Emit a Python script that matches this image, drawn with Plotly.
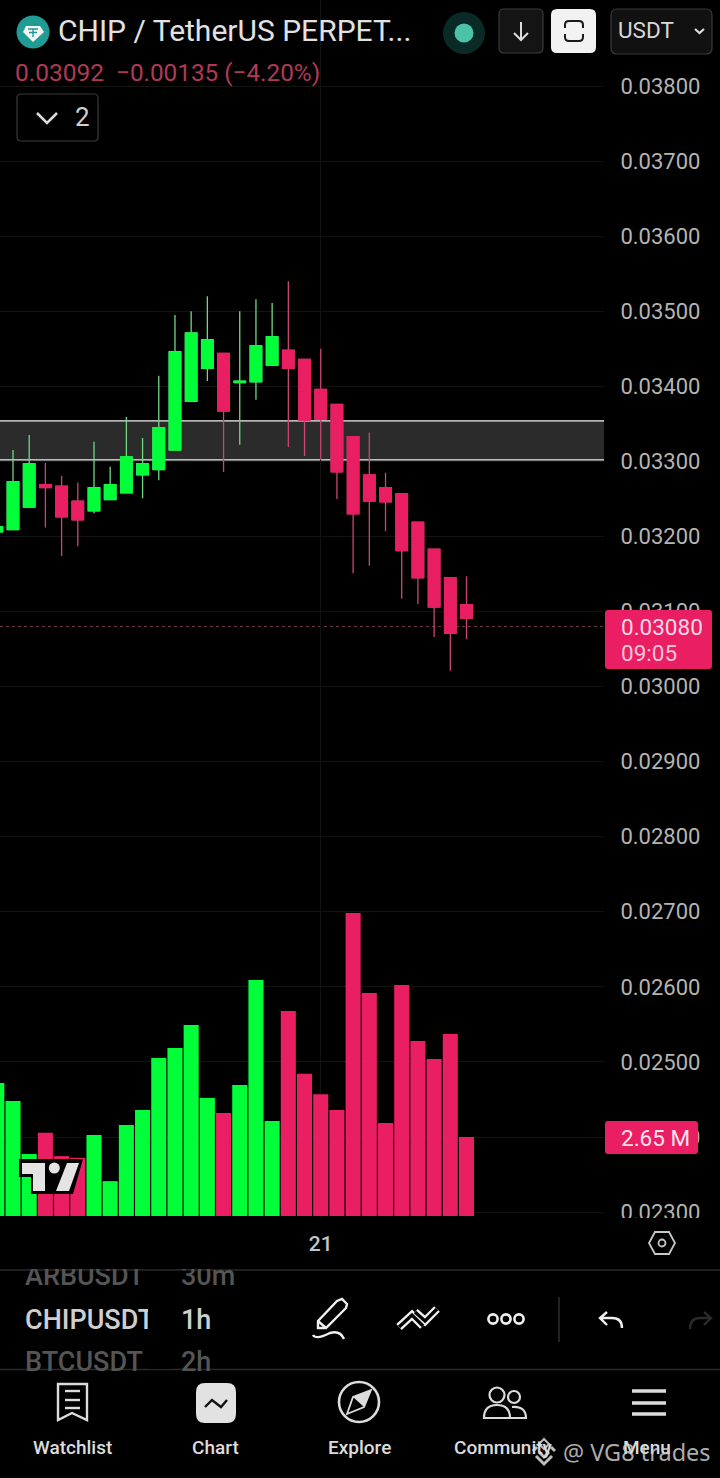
import re
import plotly.graph_objects as go

W, H = 720, 1478
PLOT_R, PLOT_B = 604, 1218

GREEN = "#00FF38"
RED = "#E91E63"
TICK = "#B4B4B4"
LIGHT = "#DCDCDC"

# hourly candles, price
bar_index = list(range(30))
opens = [0.03206, 0.03209, 0.03239, 0.03269, 0.03267, 0.03247, 0.03234, 0.03249, 0.03258, 0.03282,
         0.03289, 0.03315, 0.03380, 0.03424, 0.03444, 0.03405, 0.03406, 0.03428, 0.03448, 0.03436,
         0.03396, 0.03376, 0.03333, 0.03282, 0.03265, 0.03257, 0.03219, 0.03183, 0.03145, 0.03109]
highs = [0.03213, 0.03315, 0.03335, 0.03298, 0.03281, 0.03272, 0.03326, 0.03293, 0.03359, 0.03331,
         0.03414, 0.03495, 0.03500, 0.03520, 0.03444, 0.03500, 0.03516, 0.03511, 0.03540, 0.03436,
         0.03450, 0.03376, 0.03333, 0.03338, 0.03285, 0.03257, 0.03219, 0.03183, 0.03145, 0.03147]
lows = [0.03206, 0.03209, 0.03239, 0.03212, 0.03174, 0.03187, 0.03231, 0.03249, 0.03258, 0.03251,
        0.03275, 0.03315, 0.03380, 0.03407, 0.03286, 0.03322, 0.03382, 0.03428, 0.03319, 0.03307,
        0.03302, 0.03250, 0.03151, 0.03161, 0.03207, 0.03117, 0.03110, 0.03066, 0.03021, 0.03063]
closes = [0.03213, 0.03273, 0.03297, 0.03265, 0.03226, 0.03222, 0.03265, 0.03269, 0.03306, 0.03297,
          0.03345, 0.03446, 0.03471, 0.03462, 0.03367, 0.03407, 0.03454, 0.03466, 0.03424, 0.03355,
          0.03356, 0.03286, 0.03230, 0.03247, 0.03246, 0.03181, 0.03145, 0.03106, 0.03071, 0.03091]
volumes = [4.46, 3.86, 2.08, 2.79, 2.01, 1.95, 2.72, 1.17, 3.05, 3.56,
           5.30, 5.64, 6.41, 3.96, 3.46, 4.40, 7.92, 3.19, 6.88, 4.77,
           4.09, 3.56, 10.17, 7.48, 3.12, 7.75, 5.87, 5.27, 6.11, 2.65]

price_ticks = [0.038, 0.037, 0.036, 0.035, 0.034, 0.033, 0.032, 0.031, 0.030,
               0.029, 0.028, 0.027, 0.026, 0.025, 0.024, 0.023]
day_tick = [20]
day_label = ["21"]
zone_top, zone_bottom = 0.03354, 0.03302
last_price = 0.03080


def px(x):
    return x / W


def py(y):
    return 1 - y / H


def path(d):
    # pixel path -> paper path
    out, is_x = [], True
    for tok in d.split():
        if re.fullmatch(r"[A-Za-z]", tok):
            out.append(tok)
            is_x = True
        else:
            out.append(f"{px(float(tok)):.5f}" if is_x else f"{py(float(tok)):.5f}")
            is_x = not is_x
    return " ".join(out)


shapes = []
notes = []


def stroke(d, color=LIGHT, width=2.5, fill=None):
    shapes.append(dict(type="path", path=path(d), xref="paper", yref="paper", layer="above",
                       line=dict(color=color, width=width), fillcolor=fill))


def rrect(x0, y0, x1, y1, r, fill, line=None):
    d = (f"M {x0+r} {y0} L {x1-r} {y0} Q {x1} {y0} {x1} {y0+r} L {x1} {y1-r} Q {x1} {y1} {x1-r} {y1} "
         f"L {x0+r} {y1} Q {x0} {y1} {x0} {y1-r} L {x0} {y0+r} Q {x0} {y0} {x0+r} {y0} Z")
    stroke(d, color=line or fill, width=1.2 if line else 0, fill=fill)


def circle(cx, cy, r, fill="rgba(0,0,0,0)", line=None, width=2.5):
    shapes.append(dict(type="circle", xref="paper", yref="paper", layer="above",
                       x0=px(cx - r), x1=px(cx + r), y0=py(cy + r), y1=py(cy - r),
                       fillcolor=fill, line=dict(color=line or fill, width=width if line else 0)))


def text(x, y, s, size, color=LIGHT, anchor="left", weight=400, family="Roboto"):
    notes.append(dict(x=px(x), y=py(y), xref="paper", yref="paper", text=s, showarrow=False,
                      xanchor=anchor, yanchor="middle", borderpad=0, borderwidth=0,
                      font=dict(size=size, color=color, family=family, weight=weight)))


def mask(x0, y0, x1, y1):
    # annotations sit above shapes, so clipped labels need an annotation on top of them
    notes.append(dict(x=px(x0), y=py(y0), xref="paper", yref="paper", text=" ", showarrow=False,
                      xanchor="left", yanchor="top", width=x1 - x0, height=y1 - y0, borderpad=0,
                      borderwidth=0, bgcolor="#000000", font=dict(size=6)))


# support zone and last price
zone = [dict(type="rect", xref="paper", yref="y", layer="below", x0=0, x1=px(PLOT_R),
             y0=zone_bottom, y1=zone_top, fillcolor="#2B2B2B", line=dict(width=0))]
for lvl in (zone_top, zone_bottom):
    zone.append(dict(type="line", xref="paper", yref="y", layer="below", x0=0, x1=px(PLOT_R),
                     y0=lvl, y1=lvl, line=dict(color="#F2F2F2", width=1.1)))
zone.append(dict(type="line", xref="paper", yref="y", layer="below", x0=0, x1=px(PLOT_R),
                 y0=last_price, y1=last_price, line=dict(color="#6E3A44", width=1, dash="dot")))
shapes.extend(zone)

# axis tags
rrect(605, 610, 712, 669, 3, RED)
text(662, 627, "0.03080", 22.5, "#FFD9E6", "center")
text(621, 653, "09:05", 22.5, "#FFC4D8")
rrect(605, 1121, 698, 1154, 3, RED)
text(621, 1138, "2.65 M", 22.5, "#FFE3EC")
stroke("M 606 1218 L 720 1218 L 720 1228 L 606 1228 Z", color="#000000", width=0, fill="#000000")

# header
circle(33, 32, 16.5, fill="#1F9C94")
stroke("M 26 26 L 40 26 L 44 32 L 33 42 L 23 32 Z", color="#F4F4F4", width=0, fill="#F4F4F4")
stroke("M 28 29 L 38 29 M 33 29 L 33 37 M 29 32.5 L 37 32.5", color="#1F9C94", width=1.4)
text(58, 31, "CHIP / TetherUS PERPET...", 30, "#E2E2E2")
text(15, 73, "0.03092", 24.5, "#B03A55")
text(116, 73, "−0.00135 (−4.20%)", 24.3, "#B03A55")
rrect(17, 94, 98, 141, 4, "#000000", "#3A3A3A")
stroke("M 37 113 L 47 123 L 57 113", color=LIGHT, width=2.5)
text(75, 117, "2", 26, "#D0D0D0")

circle(464, 33, 21, fill="#0A2A27")
circle(464, 33, 9.5, fill="#4CC3A6")
rrect(499, 9, 543, 53, 5, "#141414", "#3A3A3A")
stroke("M 521 22 L 521 39 M 514 33 L 521 40 L 528 33", color=LIGHT, width=2)
rrect(551, 9, 596, 53, 6, "#F2F2F2")
stroke("M 565 28 L 565 25 Q 565 21 569 21 L 579 21 Q 583 21 583 25 L 583 28", color="#1A1A1A", width=2)
stroke("M 565 34 L 565 37 Q 565 41 569 41 L 579 41 Q 583 41 583 37 L 583 34", color="#1A1A1A", width=2)
rrect(611, 9, 712, 54, 6, "#111111", "#3A3A3A")
text(618, 30, "USDT", 22.5, "#D8D8D8")
stroke("M 695 29 L 699.5 33 L 704 29", color=LIGHT, width=2.2)

# TradingView mark over the volume
stroke("M 19 1159 L 83 1159 L 73 1194 L 31 1194 L 31 1177 L 19 1177 Z", color="#000000", width=0, fill="#000000")
stroke("M 22 1163 L 45 1163 L 45 1191 L 33 1191 L 33 1174 L 22 1174 Z", color="#E4E4E4", width=0, fill="#E4E4E4")
circle(54.3, 1168, 5.5, fill="#E4E4E4")
stroke("M 67 1163 L 79 1163 L 69 1191 L 56 1191 Z", color="#E4E4E4", width=0, fill="#E4E4E4")

# settings hexagon next to the time axis
stroke("M 655 1232 L 669 1232 L 675 1243 L 669 1254 L 655 1254 L 649 1243 Z", color="#C8C8C8", width=1.8)
circle(662, 1243, 3.5, line="#C8C8C8", width=1.8)

# separators
for sep in (1270, 1369.5):
    stroke(f"M 0 {sep} L 720 {sep}", color="#2A2A2A", width=1.3)

# symbol / interval picker
text(25, 1276, "ARBUSDT", 27, "#555555", weight=500)
text(181, 1276, "30m", 27, "#555555", weight=500)
text(25, 1320, "CHIPUSDT", 27, "#CFCFCF", weight=500)
text(181, 1320, "1h", 27, "#CFCFCF", weight=500)
text(25, 1362, "BTCUSDT", 27, "#555555", weight=500)
text(181, 1362, "2h", 27, "#555555", weight=500)
mask(20, 1256, 260, 1269)
mask(20, 1371, 260, 1382)
mask(148, 1271, 172, 1369)

# drawing tools
stroke("M 318 1321 L 337 1301 L 342 1299 L 347 1304 L 346 1308 L 326 1328 L 318 1328 Z", color="#F0F0F0", width=2.4)
stroke("M 318 1321 L 326 1328", color="#F0F0F0", width=2.4)
stroke("M 313 1335 Q 316 1340 330 1333 Q 340 1330 344 1339", color="#F0F0F0", width=2.4)
for color_, width_ in (("#F0F0F0", 8), ("#000000", 3.4)):
    stroke("M 399 1327 L 412 1315 L 423 1326", color=color_, width=width_)
    stroke("M 415 1312 L 425 1321 L 437 1309", color=color_, width=width_)
for cx in (493, 506, 519):
    circle(cx, 1319, 4.6, line="#F0F0F0", width=2.6)
stroke("M 559 1297 L 559 1342", color="#2F2F2F", width=1.5)
stroke("M 607 1312 L 600 1318 L 607 1325 M 600 1318 L 612 1318 Q 622 1318 622 1328", color="#F0F0F0", width=2.4)
stroke("M 690 1329 Q 690 1318 700 1318 L 711 1318 M 704 1312 L 711 1318 L 704 1325", color="#2A2A2A", width=2.4)

# bottom navigation
stroke("M 58 1384 L 87 1384 L 87 1420 L 72 1413 L 58 1420 Z", color=LIGHT, width=2.4)
for yy in (1391, 1400, 1408):
    stroke(f"M 65 {yy} L 80 {yy}", color=LIGHT, width=2.4)
rrect(196, 1383, 236, 1423, 9, "#E2E2E2")
stroke("M 205 1407 L 212 1400 L 221 1407 L 227 1400", color="#111111", width=2.4)
circle(359, 1402, 20, line=LIGHT, width=2.6)
stroke("M 371 1390 L 364 1407 L 347 1414 L 353 1397 Z", color=LIGHT, width=1.8)
stroke("M 371 1390 L 364 1407 L 353 1397 Z", color=LIGHT, width=0, fill=LIGHT)
circle(497, 1395, 7.5, line=LIGHT, width=2.2)
circle(514, 1397, 6, line=LIGHT, width=2.2)
stroke("M 484 1418 Q 484 1405 497 1405 Q 510 1405 510 1418 Z", color=LIGHT, width=2.2)
stroke("M 512 1407 Q 526 1406 526 1418 L 510 1418", color=LIGHT, width=2.2)
for yy in (1391, 1403, 1414):
    stroke(f"M 632 {yy} L 666 {yy}", color=LIGHT, width=3.4)
for cx, label in ((72, "Watchlist"), (215, "Chart"), (359, "Explore"), (504, "Community"), (647, "Menu")):
    text(cx, 1447, label, 19, LIGHT, "center", weight=500)

# watermark
stroke("M 544 1439 L 549 1444 L 544 1449 L 539 1444 Z", color="#BDBDBD", width=2)
stroke("M 533 1451 L 537 1447 M 555 1451 L 551 1447", color="#BDBDBD", width=3)
stroke("M 536 1456 L 544 1464 L 552 1456 M 539 1452 L 544 1457 L 549 1452", color="#BDBDBD", width=3)
text(563, 1452, "@ VG8 trades", 23.5, "rgba(205,205,205,0.85)", family="Noto Sans")

colors = [GREEN if c >= o else RED for o, c in zip(opens, closes)]
body_low = [min(o, c) for o, c in zip(opens, closes)]
body_high = [max(o, c) for o, c in zip(opens, closes)]

fig = go.Figure()
fig.add_trace(go.Bar(x=bar_index, y=volumes, yaxis="y2", marker=dict(color=colors, line=dict(width=0)),
                     showlegend=False))
# first the wicks in the muted colour, then the solid bodies over them
fig.add_trace(go.Candlestick(x=bar_index, open=opens, high=highs, low=lows, close=closes, whiskerwidth=0,
                             increasing=dict(line=dict(color="#6FD882", width=1.3), fillcolor=GREEN),
                             decreasing=dict(line=dict(color="#C9486F", width=1.3), fillcolor=RED),
                             showlegend=False))
fig.add_trace(go.Candlestick(x=bar_index, open=opens, high=body_high, low=body_low, close=closes, whiskerwidth=0,
                             increasing=dict(line=dict(color=GREEN, width=1), fillcolor=GREEN),
                             decreasing=dict(line=dict(color=RED, width=1), fillcolor=RED),
                             showlegend=False))

fig.update_layout(
    width=W, height=H, margin=dict(l=0, r=0, t=0, b=0), autosize=False,
    paper_bgcolor="#000000", plot_bgcolor="#000000", showlegend=False,
    bargap=0.07, boxgap=0.28, boxgroupgap=0, font=dict(family="Roboto", color=TICK),
    xaxis=dict(domain=[0, px(PLOT_R)], range=[0.197, 37.49], rangeslider=dict(visible=False), automargin=False,
               tickmode="array", tickvals=day_tick, ticktext=day_label, showgrid=True, gridcolor="#131313",
               gridwidth=1, zeroline=False, showline=False, ticks="outside", ticklen=7, tickcolor="#000000",
               tickfont=dict(size=21, color="#C4C4C4", family="Roboto", weight=500)),
    yaxis=dict(domain=[py(PLOT_B), 1], range=[0.022921, 0.039146], side="right", tickmode="array", automargin=False,
               tickvals=price_ticks, tickformat=".5f", showgrid=True, gridcolor="#131313", gridwidth=1,
               zeroline=False, showline=False, ticks="outside", ticklen=11, tickcolor="#000000",
               tickfont=dict(size=22, color=TICK, family="Roboto")),
    yaxis2=dict(overlaying="y", range=[-0.067, 40.81], visible=False, showgrid=False, zeroline=False, automargin=False),
    shapes=shapes, annotations=notes,
)

# the page's default body margin would push the figure 8px in
fig.write_html("out.html", config={"displayModeBar": False},
               post_script="document.body.style.margin='0';document.body.style.overflow='hidden';")
